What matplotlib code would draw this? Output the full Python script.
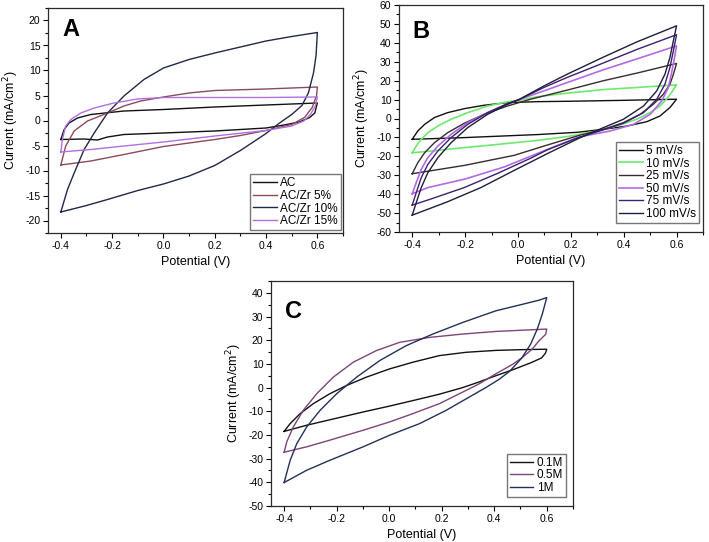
import matplotlib
matplotlib.use("Agg")
import matplotlib.pyplot as plt
from matplotlib.ticker import MultipleLocator, FormatStrFormatter

plt.rcParams['font.family'] = ['Liberation Sans', 'DejaVu Sans']
plt.rcParams['axes.unicode_minus'] = False

# ---- panel A: AC with Zr loading ----
ac_v = [-0.4, -0.387, -0.368, -0.335, -0.283, -0.154, 0.0, 0.2, 0.4, 0.6,
        0.59, 0.57, 0.53, 0.47, 0.4, 0.2, 0.0, -0.154, -0.218, -0.257, -0.309, -0.4]
ac_i = [-3.8, -1.8, -0.5, 0.5, 1.2, 1.9, 2.2, 2.7, 3.1, 3.5,
        1.5, 0.6, -0.3, -0.9, -1.5, -2.1, -2.5, -2.8, -3.3, -3.9, -3.7, -3.8]

zr5_v = [-0.4, -0.381, -0.348, -0.296, -0.218, -0.154, -0.089, 0.0, 0.1, 0.2, 0.4, 0.6,
         0.597, 0.58, 0.55, 0.5, 0.4, 0.3, 0.2, 0.0, -0.154, -0.283, -0.4]
zr5_i = [-8.9, -5.1, -2.1, -0.1, 1.5, 2.9, 3.9, 4.7, 5.5, 6.0, 6.3, 6.7,
         5.0, 2.6, 0.6, -0.8, -2.0, -3.0, -3.8, -5.2, -6.8, -8.1, -8.9]

zr10_v = [-0.4, -0.374, -0.348, -0.309, -0.27, -0.218, -0.154, -0.076, 0.0, 0.1, 0.2, 0.3, 0.4, 0.5, 0.6,
          0.595, 0.585, 0.565, 0.54, 0.5, 0.45, 0.4, 0.3, 0.2, 0.1, 0.0, -0.1, -0.218, -0.3, -0.4]
zr10_i = [-18.3, -13.8, -10.5, -5.8, -2.5, 1.5, 4.9, 8.2, 10.5, 12.2, 13.5, 14.7, 15.9, 16.8, 17.6,
          13.0, 9.5, 5.5, 3.0, 1.2, -0.6, -2.6, -6.0, -9.0, -11.1, -12.7, -14.0, -15.8, -17.0, -18.3]

zr15_v = [-0.4, -0.394, -0.381, -0.361, -0.322, -0.27, -0.193, -0.102, 0.0, 0.2, 0.4, 0.6,
          0.592, 0.573, 0.547, 0.5, 0.4, 0.2, 0.0, -0.154, -0.283, -0.4]
zr15_i = [-6.3, -3.8, -1.1, 0.2, 1.5, 2.5, 3.5, 4.3, 4.6, 4.6, 4.6, 4.7,
          2.9, 1.2, -0.1, -1.1, -2.0, -3.1, -4.3, -5.1, -5.8, -6.3]

# ---- panel B: scan rates ----
r5_v = [-0.4, -0.379, -0.353, -0.316, -0.266, -0.203, -0.128, -0.04, 0.073, 0.186, 0.4, 0.6,
        0.575, 0.537, 0.487, 0.412, 0.324, 0.224, 0.073, -0.203, -0.4]
r5_i = [-11.0, -6.6, -3.1, 0.5, 3.1, 5.2, 7.0, 8.4, 8.9, 9.1, 9.6, 10.2,
        5.8, 1.3, -1.7, -4.0, -5.7, -7.3, -8.5, -10.1, -11.0]

r10_v = [-0.4, -0.385, -0.366, -0.341, -0.303, -0.253, -0.19, -0.115, -0.04, 0.01, 0.073, 0.186, 0.324, 0.45, 0.6,
         0.581, 0.562, 0.537, 0.5, 0.449, 0.387, 0.299, 0.198, 0.073, -0.077, -0.203, -0.328, -0.4]
r10_i = [-18.1, -14.6, -11.0, -7.5, -4.0, -0.4, 3.1, 6.6, 8.8, 9.8, 11.5, 13.4, 15.3, 16.4, 17.8,
         13.7, 10.2, 6.6, 3.1, -0.4, -3.4, -6.6, -9.3, -11.6, -13.7, -15.4, -17.2, -18.1]

r25_v = [-0.4, -0.379, -0.353, -0.316, -0.266, -0.203, -0.128, -0.04, 0.048, 0.186, 0.324, 0.45, 0.6,
         0.588, 0.575, 0.55, 0.512, 0.462, 0.399, 0.324, 0.23, 0.1, -0.015, -0.203, -0.4]
r25_i = [-29.2, -23.4, -18.1, -12.8, -7.5, -2.5, 2.2, 6.6, 10.2, 15.0, 20.0, 24.0, 29.1,
         23.4, 18.1, 12.8, 7.5, 2.2, -2.2, -5.7, -9.0, -14.5, -19.5, -24.8, -29.2]

r50_v = [-0.4, -0.385, -0.366, -0.341, -0.303, -0.253, -0.19, -0.115, -0.04, 0.004, 0.098, 0.186, 0.324, 0.45, 0.6,
         0.59, 0.58, 0.569, 0.544, 0.5, 0.437, 0.349, 0.23, 0.1, -0.05, -0.2, -0.34, -0.4]
r50_i = [-39.8, -34.0, -26.9, -20.7, -14.6, -8.4, -2.2, 3.1, 7.5, 10.0, 14.6, 19.0, 25.8, 31.5, 38.4,
         30.5, 23.4, 16.4, 9.3, 2.2, -3.1, -6.6, -9.8, -17.0, -25.5, -32.0, -36.5, -39.8]

r75_v = [-0.4, -0.385, -0.366, -0.341, -0.303, -0.253, -0.19, -0.115, -0.04, 0.004, 0.098, 0.186, 0.324, 0.45, 0.6,
         0.588, 0.575, 0.556, 0.525, 0.475, 0.399, 0.312, 0.23, 0.112, 0.048, -0.077, -0.203, -0.328, -0.4]
r75_i = [-45.8, -39.3, -31.3, -24.3, -17.2, -10.1, -3.1, 3.1, 7.9, 10.0, 16.4, 21.7, 29.4, 36.5, 44.3,
         35.8, 27.0, 18.1, 10.2, 3.1, -2.5, -6.5, -10.0, -16.5, -21.0, -29.0, -36.5, -42.5, -45.8]

r100_v = [-0.4, -0.385, -0.366, -0.341, -0.303, -0.253, -0.19, -0.115, -0.04, 0.004, 0.098, 0.186, 0.324, 0.45, 0.6,
          0.588, 0.575, 0.556, 0.525, 0.475, 0.399, 0.312, 0.23, 0.112, -0.015, -0.14, -0.266, -0.4]
r100_i = [-51.1, -44.6, -36.6, -28.7, -20.7, -12.8, -4.8, 2.2, 7.5, 10.0, 17.2, 23.4, 32.5, 40.5, 49.0,
          41.1, 32.3, 23.4, 14.6, 6.6, -0.4, -5.5, -10.5, -18.5, -27.5, -36.5, -44.0, -51.1]

# ---- panel C: electrolyte concentration ----
m01_v = [-0.4, -0.377, -0.339, -0.289, -0.226, -0.162, -0.087, 0.002, 0.09, 0.191, 0.293, 0.406, 0.5, 0.6,
         0.595, 0.58, 0.54, 0.47, 0.406, 0.343, 0.28, 0.191, 0.09, 0.002, -0.099, -0.226, -0.314, -0.4]
m01_i = [-18.5, -15.2, -11.0, -6.8, -2.6, 0.9, 4.4, 7.9, 10.7, 13.5, 14.9, 15.7, 16.0, 16.2,
         14.5, 12.5, 10.5, 7.5, 5.0, 2.4, 0.0, -2.8, -5.5, -7.8, -10.3, -13.6, -15.9, -18.5]

m05_v = [-0.4, -0.39, -0.365, -0.327, -0.276, -0.213, -0.137, -0.049, 0.04, 0.154, 0.28, 0.406, 0.6,
         0.596, 0.571, 0.545, 0.508, 0.47, 0.406, 0.343, 0.28, 0.191, 0.09, 0.002, -0.099, -0.226, -0.314, -0.4]
m05_i = [-27.3, -22.9, -16.6, -9.6, -2.6, 4.4, 10.7, 15.6, 19.1, 21.2, 22.6, 23.7, 24.7,
         22.5, 19.8, 16.3, 12.8, 9.8, 5.8, 1.6, -1.9, -6.8, -11.0, -14.5, -18.0, -22.2, -25.0, -27.3]

m1_v = [-0.4, -0.377, -0.352, -0.314, -0.263, -0.2, -0.124, -0.036, 0.065, 0.166, 0.28, 0.406, 0.571, 0.6,
        0.583, 0.564, 0.539, 0.505, 0.46, 0.419, 0.368, 0.305, 0.217, 0.116, 0.002, -0.099, -0.226, -0.314, -0.4]
m1_i = [-40.1, -30.7, -23.7, -16.6, -9.6, -2.6, 4.4, 11.4, 17.7, 22.6, 27.5, 32.4, 36.9, 38.0,
        31.0, 24.7, 18.4, 12.5, 7.0, 3.5, 0.0, -4.0, -9.6, -15.2, -20.1, -25.0, -30.7, -34.9, -40.1]


def style(ax, ylim, ymaj, letter, lx, ly):
    ax.set_xlim(-0.45, 0.7)
    ax.set_ylim(ylim)
    ax.xaxis.set_major_locator(MultipleLocator(0.2))
    ax.xaxis.set_minor_locator(MultipleLocator(0.1))
    ax.yaxis.set_major_locator(MultipleLocator(ymaj))
    ax.yaxis.set_minor_locator(MultipleLocator(ymaj / 2))
    ax.tick_params(which='both', direction='out', top=False, right=False, labelsize=7.5, width=0.8)
    ax.tick_params(which='major', length=3.5, pad=2)
    ax.tick_params(which='minor', length=2)
    ax.xaxis.set_major_formatter(FormatStrFormatter('%.1f'))
    ax.yaxis.set_major_formatter(FormatStrFormatter('%d'))
    for s in ax.spines.values():
        s.set_linewidth(0.9)
        s.set_color('#2a2a2a')
    ax.set_xlabel("Potential (V)", fontsize=9, labelpad=4)
    ax.set_ylabel("Current (mA/cm$^2$)", fontsize=9, labelpad=3)
    ax.text(lx, ly, letter, transform=ax.transAxes, fontsize=17, fontweight='bold', va='top', ha='left')


def add_legend(ax, anchor):
    ax.legend(loc='lower right', bbox_to_anchor=anchor, borderaxespad=0, fontsize=8.5,
              frameon=True, fancybox=False, edgecolor='#777777', framealpha=1,
              handlelength=2.0, labelspacing=0.05, borderpad=0.25, handletextpad=0.3)


fig = plt.figure(figsize=(7.09, 5.42), dpi=100)

axA = fig.add_axes([48/709, 1-233/542, 295/709, 225/542])
axA.plot(ac_v, ac_i, color='#111111', lw=1.0, label='AC')
axA.plot(zr5_v, zr5_i, color='#8b4a5a', lw=1.0, label='AC/Zr 5%')
axA.plot(zr10_v, zr10_i, color='#222848', lw=1.0, label='AC/Zr 10%')
axA.plot(zr15_v, zr15_i, color='#b36fe2', lw=1.0, label='AC/Zr 15%')
style(axA, (-22.5, 22.5), 5, 'A', 0.05, 0.955)
add_legend(axA, (0.993, 0.013))

axB = fig.add_axes([399/709, 1-232/542, 304/709, 227/542])
axB.plot(r5_v, r5_i, color='#111111', lw=1.0, label='5 mV/s')
axB.plot(r10_v, r10_i, color='#6ee86e', lw=1.2, label='10 mV/s')
axB.plot(r25_v, r25_i, color='#3a2a2c', lw=1.0, label='25 mV/s')
axB.plot(r50_v, r50_i, color='#b36ae6', lw=1.2, label='50 mV/s')
axB.plot(r75_v, r75_i, color='#3d2070', lw=1.0, label='75 mV/s')
axB.plot(r100_v, r100_i, color='#1c1f3d', lw=1.0, label='100 mV/s')
style(axB, (-60, 60), 10, 'B', 0.043, 0.934)
add_legend(axB, (0.987, 0.04))

axC = fig.add_axes([271/709, 1-506/542, 302/709, 225/542])
axC.plot(m01_v, m01_i, color='#111111', lw=1.0, label='0.1M')
axC.plot(m05_v, m05_i, color='#7e4478', lw=1.0, label='0.5M')
axC.plot(m1_v, m1_i, color='#24305a', lw=1.0, label='1M')
style(axC, (-50, 45), 10, 'C', 0.046, 0.916)
add_legend(axC, (0.977, 0.04))

fig.savefig("out.png", dpi=100)
